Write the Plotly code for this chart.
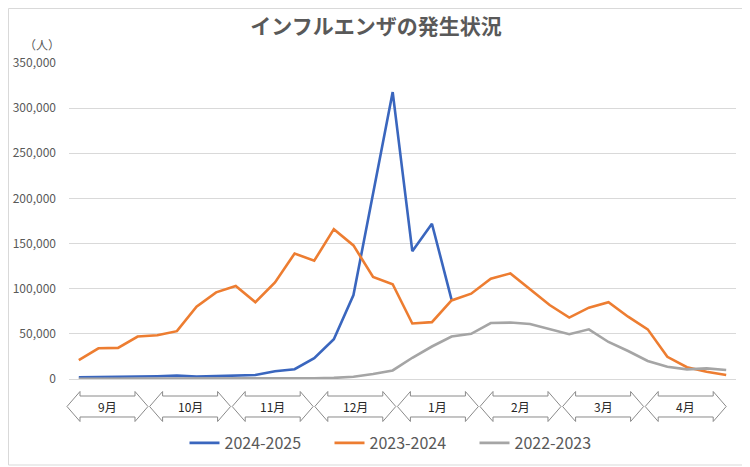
import plotly.graph_objects as go

# 週番号（9月第1週〜4月末）
weeks = [str(w) for w in list(range(36, 53)) + list(range(1, 18))]

# 2024-2025（1月中旬まで）
s2024 = [1900, 2000, 2200, 2600, 3000, 3700, 2800, 3200, 4000, 4400,
         8500, 10800, 23000, 44000, 93000, 207000, 317800, 141600, 172000, 88000]

s2023 = [21000, 34000, 34500, 47000, 48500, 53000, 80000, 96000, 103000, 85000,
         107000, 139000, 131000, 166000, 148000, 113000, 105000, 61500, 63000, 87000,
         94500, 111000, 117000, 99000, 82000, 68000, 79000, 85000, 69000, 55000,
         24600, 13000, 8000, 4400]

s2022 = [300, 300, 300, 300, 300, 300, 400, 400, 400, 500,
         500, 600, 800, 1200, 2500, 5500, 9500, 23500, 36000, 47000,
         50000, 62000, 62500, 61000, 55000, 49600, 55000, 41000, 31000, 20000,
         13600, 10700, 11800, 10000]

months = ["9月", "10月", "11月", "12月", "1月", "2月", "3月", "4月"]

series = [
    ("2024-2025", s2024, "#3A66BE"),
    ("2023-2024", s2023, "#ED7D31"),
    ("2022-2023", s2022, "#A5A5A5"),
]

# ページ余白（body margin 8px）を差し引いて配置
OFF = 8
W, H = 750 - OFF, 467 - OFF
L, R, T, B = 69 - OFF, 14, 63 - OFF, 88
pw, ph = W - L - R, H - T - B


def px(x):
    # 参照画像上のx座標 -> paper座標
    return (x - OFF - L) / pw


def py(y):
    return (H - B - (y - OFF)) / ph


fig = go.Figure()
for name, vals, col in series:
    fig.add_trace(go.Scatter(
        x=weeks[:len(vals)], y=vals, mode="lines", name=name,
        line=dict(color=col, width=2.6),
    ))

# 月の両矢印
shapes = []
annotations = []
step = 82.6
aw, head = 81, 13
yc, yo, yb = 406.5, 15, 10.5
for i, m in enumerate(months):
    x0 = 67 + step * i
    x1 = x0 + aw
    pts = [
        (x0, yc), (x0 + head, yc - yo), (x0 + head, yc - yb), (x1 - head, yc - yb),
        (x1 - head, yc - yo), (x1, yc), (x1 - head, yc + yo), (x1 - head, yc + yb),
        (x0 + head, yc + yb), (x0 + head, yc + yo),
    ]
    path = "M " + " L ".join(f"{px(a):.5f},{py(b):.5f}" for a, b in pts) + " Z"
    shapes.append(dict(type="path", xref="paper", yref="paper", path=path,
                       line=dict(color="#8a8a8a", width=1), fillcolor="white"))
    annotations.append(dict(x=px((x0 + x1) / 2), y=py(yc), xref="paper", yref="paper",
                            xanchor="center", yanchor="middle",
                            text=m, showarrow=False,
                            font=dict(size=12, color="#262626")))

# 外枠
shapes.append(dict(type="rect", xref="paper", yref="paper",
                   x0=px(OFF + 0.5), x1=px(746), y0=py(465), y1=py(OFF + 0.5),
                   line=dict(color="#d9d9d9", width=1), layer="below"))

annotations.append(dict(x=px(42), y=py(45), xref="paper", yref="paper",
                        xanchor="center", yanchor="middle",
                        text="（人）", showarrow=False,
                        font=dict(size=12, color="#595959")))

fig.update_layout(
    width=W, height=H,
    margin=dict(l=L, r=R, t=T, b=B, autoexpand=False),
    paper_bgcolor="white", plot_bgcolor="white",
    font=dict(family="Noto Sans CJK JP", color="#595959"),
    title=dict(text="<b>インフルエンザの発生状況</b>", x=px(376), xanchor="center",
               xref="paper", y=1 - (27 - OFF) / H, yanchor="middle",
               font=dict(size=21, color="#595959")),
    xaxis=dict(type="category", range=[-0.5, 33.5], showgrid=False,
               showticklabels=False, zeroline=False, showline=False, fixedrange=True),
    yaxis=dict(range=[0, 350000], dtick=50000, tickformat=",",
               showgrid=True, gridcolor="#d9d9d9", gridwidth=1,
               zeroline=True, zerolinecolor="#d9d9d9", zerolinewidth=1,
               ticklabelstandoff=12, tickfont=dict(size=12, color="#595959")),
    legend=dict(orientation="h", x=px(402), xanchor="center", y=py(443), yanchor="middle",
                font=dict(size=16, color="#595959"), itemwidth=30, tracegroupgap=0,
                entrywidth=100, entrywidthmode="pixels"),
    shapes=shapes,
    annotations=annotations,
    showlegend=True,
)

fig.write_html("out.html")
